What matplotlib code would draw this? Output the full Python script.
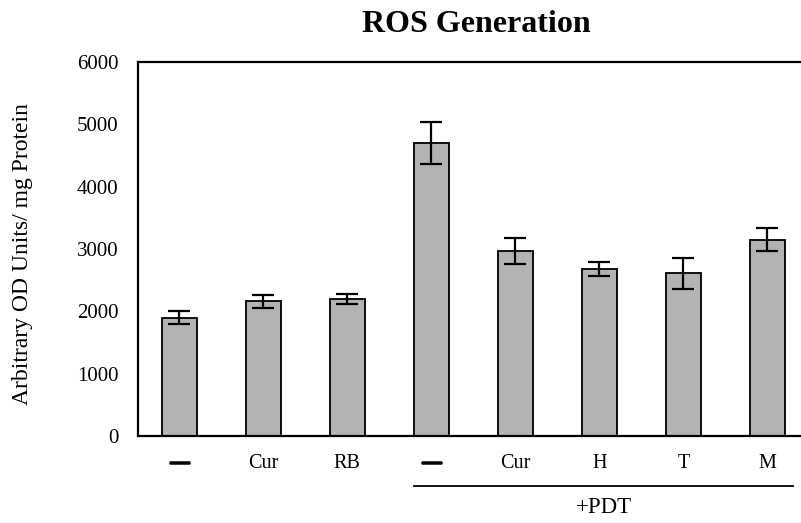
import numpy as np
import matplotlib
matplotlib.use("Agg")
import matplotlib.pyplot as plt
import matplotlib.patheffects as pe
from matplotlib.transforms import blended_transform_factory

# ===== data =====
labels = ["\u2014", "Cur", "RB", "\u2014", "Cur", "H", "T", "M"]
ros_mean = [1900, 2160, 2200, 4700, 2970, 2680, 2610, 3150]
ros_err = [110, 110, 75, 340, 210, 110, 250, 180]
pdt_start = 3          # first bar of the +PDT group

plt.rcParams['font.family'] = ['Liberation Serif', 'DejaVu Serif']

fig = plt.figure(figsize=(8.01, 5.23), dpi=100)
ax = fig.add_axes([138/801, 87/523, 663/801, 374/523])

x = np.arange(len(labels))
w = 0.42
ax.bar(x, ros_mean, width=w, color='#b3b3b3', edgecolor='black', linewidth=1.3)
ax.errorbar(x, ros_mean, yerr=ros_err, fmt='none', ecolor='black',
            elinewidth=1.6, capsize=8, capthick=1.6)

ax.set_xlim(-0.49, 7.40)
ax.set_ylim(0, 6000)
ax.set_yticks(range(0, 6001, 1000))
ax.set_xticks(x)
ax.set_xticklabels(labels, fontsize=14.5)
for i, t in enumerate(ax.get_xticklabels()):
    if labels[i] == "\u2014":
        t.set_fontsize(13.5)
        t.set_path_effects([pe.withStroke(linewidth=1.8, foreground='black')])
ax.tick_params(axis='y', length=0, pad=14, labelsize=15)
ax.tick_params(axis='x', length=0, pad=13)

for s in ['left', 'bottom', 'top']:
    ax.spines[s].set_linewidth(1.6)
ax.spines['right'].set_visible(False)

ax.set_ylabel("Arbitrary OD Units/ mg Protein", fontsize=17)
ax.yaxis.set_label_coords(-0.158, 0.487)

# ===== +PDT bracket =====
tr = blended_transform_factory(ax.transData, ax.transAxes)
x0 = x[pdt_start] - w / 2
x1 = x[-1] + w / 2 + 0.1
ax.plot([x0, x1], [-0.134, -0.134], color='black', linewidth=1.3,
        transform=tr, clip_on=False)
ax.text((x0 + x1) / 2, -0.19, "+PDT", transform=tr, ha='center', va='center',
        fontsize=16.5)

fig.text(476/801, 1 - 24/523, "ROS Generation", ha='center', va='center',
         fontsize=23, fontweight='bold')

fig.savefig("out.png", dpi=100)
